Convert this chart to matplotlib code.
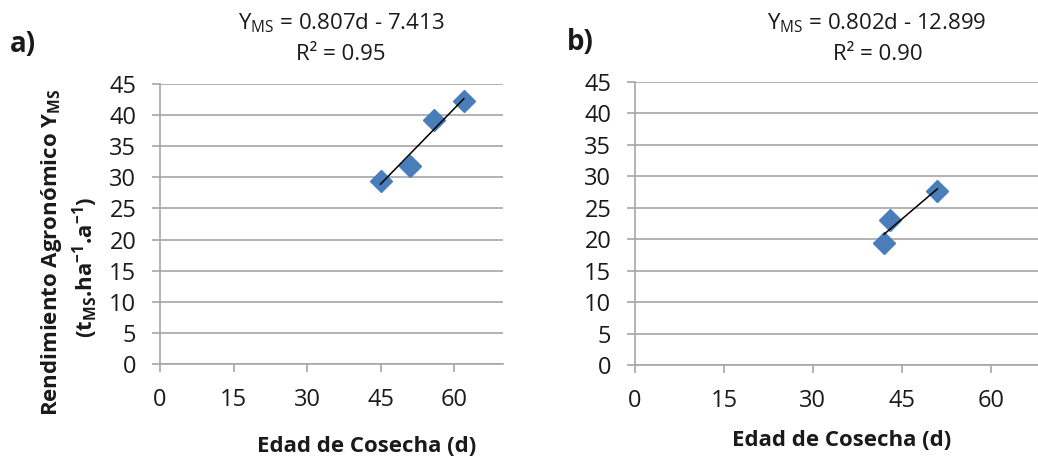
import numpy as np
import matplotlib
matplotlib.use("Agg")
import matplotlib.pyplot as plt

plt.rcParams['font.family'] = ['Open Sans', 'DejaVu Sans']
plt.rcParams['mathtext.fontset'] = 'custom'
plt.rcParams['mathtext.rm'] = 'Open Sans'
plt.rcParams['mathtext.bf'] = 'Open Sans:bold'
plt.rcParams['mathtext.default'] = 'regular'

# panel a)
edad_a = [45, 51, 56, 62]
rend_a = [29.4, 31.9, 39.2, 42.3]
coef_a = [0.807, -7.413]
r2_a = 0.95

# panel b)
edad_b = [42, 43, 51]
rend_b = [19.4, 23.0, 27.7]
coef_b = [0.802, -12.899]
r2_b = 0.90

x_ticks = [0, 15, 30, 45, 60]
y_ticks = [0, 5, 10, 15, 20, 25, 30, 35, 40, 45]

GRID = '#a6a6a6'
BLUE = '#4a7ebb'
TXT = '#1a1a1a'
W, H = 1038, 457

fig = plt.figure(figsize=(W / 100, H / 100), dpi=100)
fig.patch.set_facecolor('white')


def panel(rect, xs, ys, coef, xmax):
    ax = fig.add_axes(rect)
    ax.set_xlim(0, xmax)
    ax.set_ylim(0, 45)
    ax.set_xticks(x_ticks)
    ax.set_yticks(y_ticks)
    ax.yaxis.grid(True, color=GRID, linewidth=1.2)
    ax.set_axisbelow(True)
    for s in ['top', 'right']:
        ax.spines[s].set_visible(False)
    for s in ['left', 'bottom']:
        ax.spines[s].set_color(GRID)
        ax.spines[s].set_linewidth(1.2)
    ax.tick_params(axis='both', direction='out', length=6, width=1.2,
                   color=GRID, labelsize=17, labelcolor=TXT, pad=11)
    ax.plot(xs, ys, linestyle='none', marker='D', markersize=11.5,
            color=BLUE, zorder=3)
    xl = np.array([min(xs), max(xs)])
    ax.plot(xl, coef[0] * xl + coef[1], color='black', linewidth=1.1, zorder=4)
    return ax


ax1 = panel([160 / W, 1 - 364 / H, 343 / W, 280 / H], edad_a, rend_a, coef_a, 70)
ax2 = panel([635 / W, 1 - 365 / H, 415 / W, 283 / H], edad_b, rend_b, coef_b, 70)

# equations
fig.text(341 / W, 1 - 23 / H, '$Y_{MS}$ = %.3fd - %.3f' % (coef_a[0], -coef_a[1]),
         ha='center', va='center', fontsize=16, color=TXT)
fig.text(341 / W, 1 - 55 / H, 'R² = %.2f' % r2_a, ha='center', va='center',
         fontsize=16, color=TXT)
fig.text(877 / W, 1 - 23 / H, '$Y_{MS}$ = %.3fd - %.3f' % (coef_b[0], -coef_b[1]),
         ha='center', va='center', fontsize=16, color=TXT)
fig.text(878 / W, 1 - 55 / H, 'R² = %.2f' % r2_b, ha='center', va='center',
         fontsize=16, color=TXT)

# panel letters
fig.text(23 / W, 1 - 44 / H, 'a)', ha='center', va='center', fontsize=20,
         fontweight='bold', color=TXT)
fig.text(580 / W, 1 - 42 / H, 'b)', ha='center', va='center', fontsize=20,
         fontweight='bold', color=TXT)

# axis labels
fig.text(367 / W, 1 - 446 / H, 'Edad de Cosecha (d)', ha='center', va='center',
         fontsize=16, fontweight='bold', color=TXT)
fig.text(842 / W, 1 - 440 / H, 'Edad de Cosecha (d)', ha='center', va='center',
         fontsize=16, fontweight='bold', color=TXT)
fig.text(52 / W, 1 - 252 / H, r'Rendimiento Agronómico $\mathbf{Y_{MS}}$', rotation=90,
         ha='center', va='center', fontsize=16, fontweight='bold', color=TXT)
fig.text(85 / W, 1 - 267 / H,
         r'(t$\mathbf{_{MS}}$.ha$\mathbf{^{-1}}$.a$\mathbf{^{-1}}$)', rotation=90,
         ha='center', va='center', fontsize=16, fontweight='bold', color=TXT)

fig.savefig('out.png', dpi=100)
